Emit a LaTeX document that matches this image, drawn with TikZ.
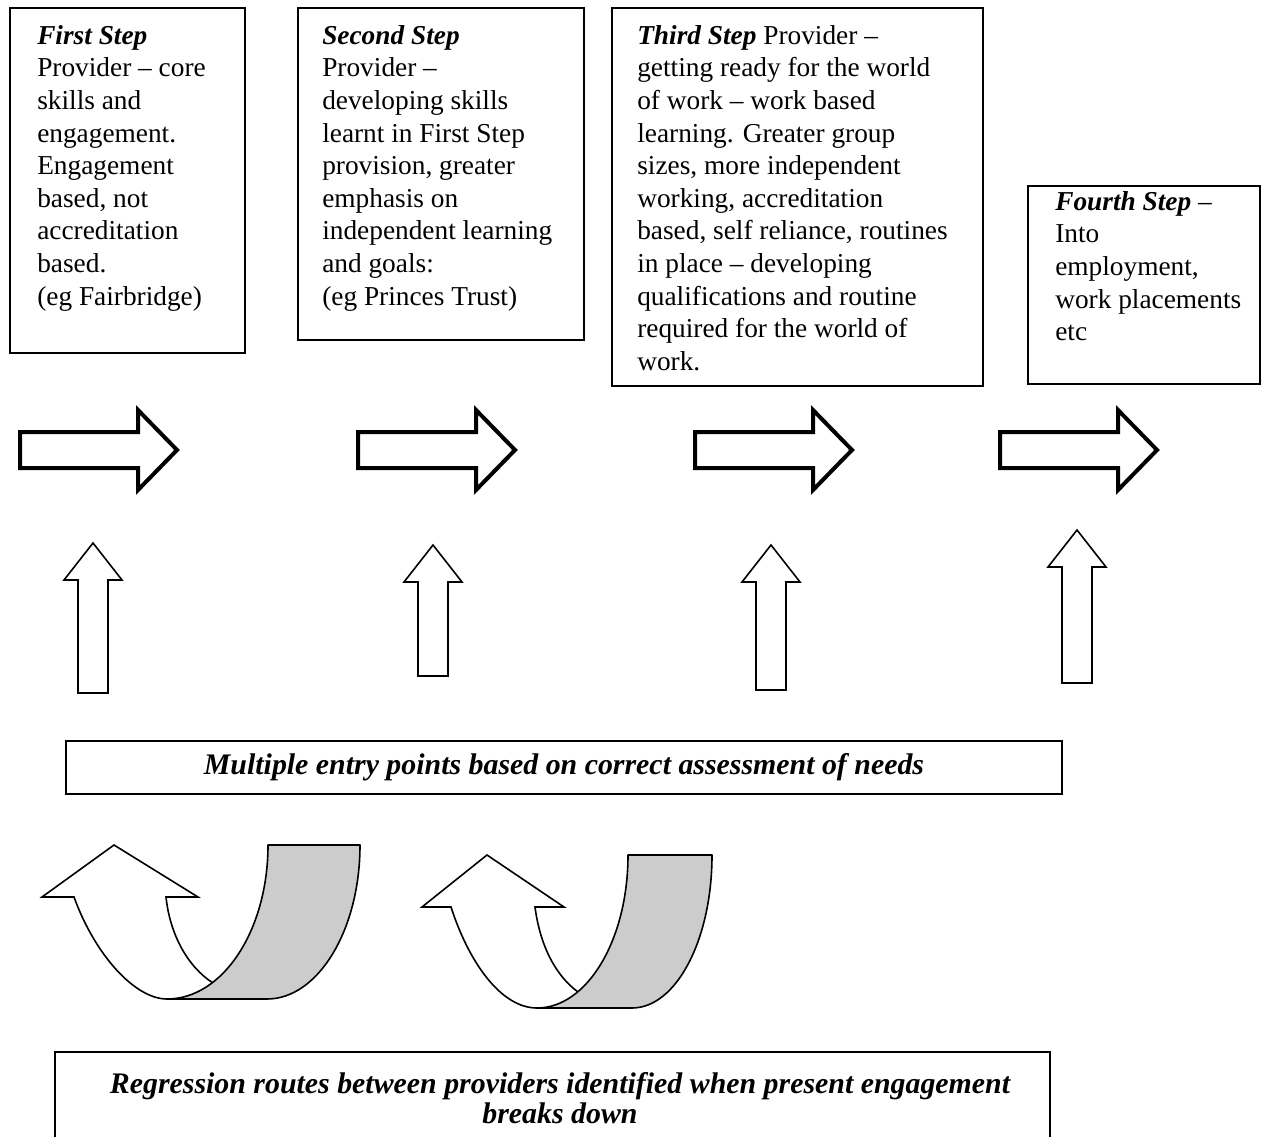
\documentclass[tikz,border=0pt]{standalone}
\usepackage{fontspec}
\setmainfont{Liberation Serif}
\usetikzlibrary{fit}
\definecolor{bandgray}{RGB}{204,204,204}
\begin{document}
\begin{tikzpicture}[x=0.75pt,y=-0.75pt,
  box/.style={draw,line width=1.5pt,inner sep=0pt},
  txt/.style={anchor=north west,align=left,inner sep=0pt,font=\fontsize{20.5}{24.45}\selectfont},
  btxt/.style={align=center,inner sep=0pt,font=\fontsize{22.4}{22.5}\selectfont\bfseries\itshape},
  rarrow/.style={draw,line width=3pt,fill=white,line join=miter},
  uarrow/.style={draw,line width=1.2pt,fill=white,line join=miter},
  band/.style={draw,line width=1.2pt,fill=bandgray,line join=round},
  uturn/.style={draw,line width=1.2pt,fill=white,line join=miter}]
\useasboundingbox (0,0) rectangle (1269,1137);
\clip (0,0) rectangle (1269,1137);

% step boxes
\node[box,fit={(10,8) (245,353)}] (b1) {};
\node[box,fit={(298,8) (584,340)}] (b2) {};
\node[box,fit={(612,8) (983,386)}] (b3) {};
\node[box,fit={(1028,186) (1260,384)}] (b4) {};

\node[txt] (t1) at (37,25) {\textbf{\textit{First Step}}\\Provider – core\\skills and\\engagement.\\Engagement\\based, not\\accreditation\\based.\\(eg Fairbridge)};
\node[txt] (t2) at (322,25) {\textbf{\textit{Second Step}}\\Provider –\\developing skills\\learnt in First Step\\provision, greater\\emphasis on\\independent learning\\and goals:\\(eg Princes Trust)};
\node[txt] (t3) at (637,25) {\textbf{\textit{Third Step}} Provider –\\getting ready for the world\\of work – work based\\learning. Greater group\\sizes, more independent\\working, accreditation\\based, self reliance, routines\\in place – developing\\qualifications and routine\\required for the world of\\work.};
\node[txt] (t4) at (1055,191) {\textbf{\textit{Fourth Step}} –\\Into\\employment,\\work placements\\etc};

% right block arrows
\foreach \dx in {0,338,675,980}{
  \draw[rarrow] ({20+\dx},432) -- ({138+\dx},432) -- ({138+\dx},410) -- ({177+\dx},450)
    -- ({138+\dx},490) -- ({138+\dx},468) -- ({20+\dx},468) -- cycle;
}

% up arrows
\foreach \cx/\ty/\by in {93/543/693, 433/545/676, 771/545/690, 1077/530/683}{
  \draw[uarrow] ({\cx-15},\by) -- ({\cx-15},{\ty+37}) -- ({\cx-29},{\ty+37}) -- (\cx,\ty)
    -- ({\cx+29},{\ty+37}) -- ({\cx+15},{\ty+37}) -- ({\cx+15},\by) -- cycle;
}

% entry box
\node[box,fit={(66,741) (1062,794)}] (mid) {};
\node[btxt] (midt) at (564,767) {Multiple entry points based on correct assessment of needs};

% U-turn arrows
\draw[uturn] (74,897) -- (42,897) -- (114,845) -- (198,897) -- (166,897)
  .. controls (170,935) and (188,967) .. (213,983) -- (232,999) -- (167,999)
  .. controls (135,999) and (95,955) .. (74,897) -- cycle;
\draw[band] (268,845) -- (360,845) .. controls (360,930) and (318,999) .. (267,999)
  -- (167,999) .. controls (223,999) and (268,930) .. (268,845) -- cycle;

\draw[uturn] (451,907) -- (422,907) -- (487,855) -- (564,907) -- (535,907)
  .. controls (540,945) and (555,975) .. (578,992) -- (595,1008) -- (537,1008)
  .. controls (500,1008) and (468,960) .. (451,907) -- cycle;
\draw[band] (628,855) -- (712,855) .. controls (712,940) and (676,1008) .. (632,1008)
  -- (537,1008) .. controls (587,1008) and (628,940) .. (628,855) -- cycle;

% regression box
\node[box,fit={(55,1052) (1050,1170)}] (reg) {};
\node[btxt] (regt) at (560,1098) {Regression routes between providers identified when present engagement\\breaks down};
\end{tikzpicture}
\end{document}
